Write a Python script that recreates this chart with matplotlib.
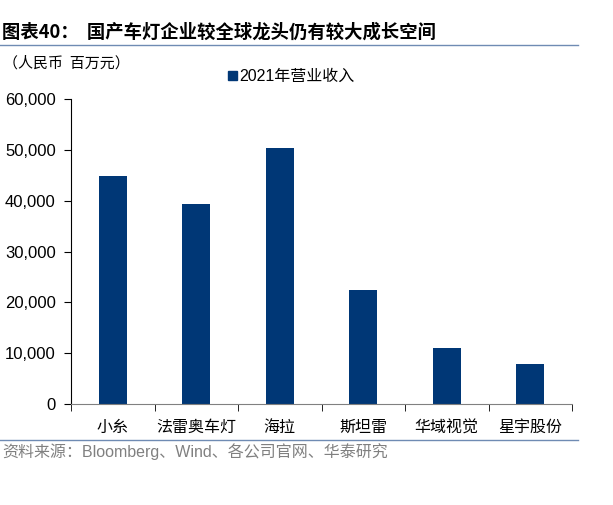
import numpy as np
import matplotlib.pyplot as plt
from matplotlib.ticker import FuncFormatter, FixedLocator
from matplotlib.patches import Rectangle

plt.rcParams['font.family'] = ['Liberation Sans', 'Noto Sans CJK SC', 'DejaVu Sans']

companies = ['小糸', '法雷奥车灯', '海拉', '斯坦雷', '华域视觉', '星宇股份']
revenue_2021 = [44800, 39400, 50400, 22400, 11000, 7900]

navy = '#003776'
rule = '#6f8bb3'

fig = plt.figure(figsize=(6.13, 5.05), dpi=100)
ax = fig.add_axes([71/613, 1-404/505, (572-71)/613, (404-99)/505])

x = np.arange(len(companies))
ax.bar(x, revenue_2021, width=0.33, color=navy, label='2021年营业收入')

ax.set_xlim(-0.5, len(companies)-0.5)
ax.set_ylim(0, 60000)
ax.set_yticks(np.arange(0, 60001, 10000))
ax.yaxis.set_major_formatter(FuncFormatter(lambda v, p: '{:,.0f}'.format(v)))
ax.set_xticks(x)
ax.set_xticklabels(companies, family=['Noto Sans CJK SC'], fontsize=11.5)
ax.xaxis.set_minor_locator(FixedLocator(np.arange(-0.5, len(companies), 1)))
ax.tick_params(axis='x', which='major', length=0, pad=11)
ax.tick_params(axis='x', which='minor', length=5, direction='out')
ax.tick_params(axis='y', length=5, direction='out', labelsize=12, pad=6)
for s in ['top', 'right']:
    ax.spines[s].set_visible(False)
ax.spines['bottom'].set_color('#808080')

# title, rules, unit, legend, source
fig.text(2/613, 1-32/505, '图表40：  国产车灯企业较全球龙头仍有较大成长空间',
         family=['Noto Sans CJK SC'], fontsize=13.2, fontweight='bold', va='center')
fig.add_artist(plt.Line2D([0, 578/613], [1-45/505, 1-45/505], color=rule, lw=1))
fig.text(3/613, 1-63/505, '（人民币  百万元）', family=['Noto Sans CJK SC'],
         fontsize=10.8, va='center')
fig.add_artist(Rectangle((228/613, 1-80/505), 9/613, 9/505, color=navy))
fig.text(239/613, 1-76/505, '2021年营业收入', family=['Liberation Sans', 'Noto Sans CJK SC'],
         fontsize=11.5, va='center')
fig.add_artist(plt.Line2D([0, 578/613], [1-440/505, 1-440/505], color=rule, lw=1))
fig.text(2/613, 1-452/505, '资料来源：Bloomberg、Wind、各公司官网、华泰研究',
         family=['Liberation Sans', 'Noto Sans CJK SC'], fontsize=11.5, color='#808080',
         va='center')

fig.savefig('out.png', dpi=100)
